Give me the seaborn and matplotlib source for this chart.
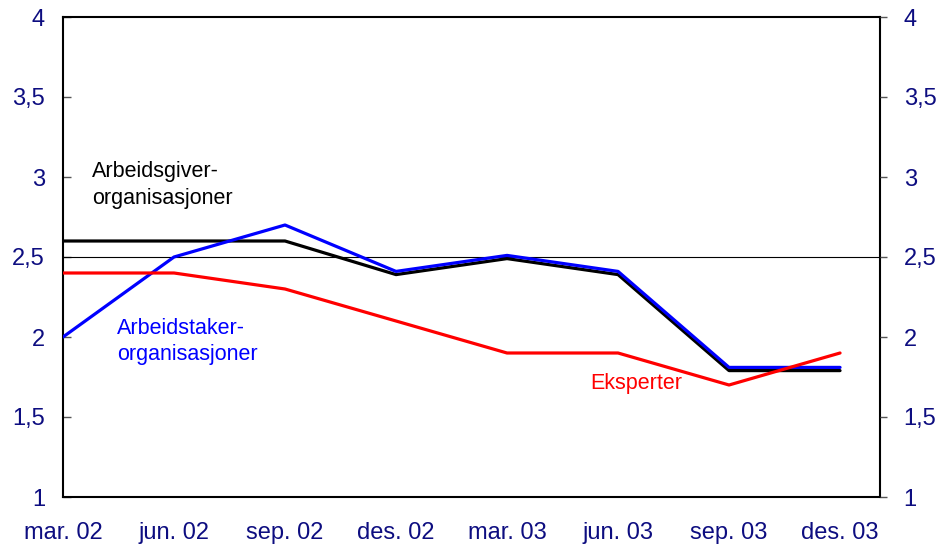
import seaborn as sns
import matplotlib.pyplot as plt
import pandas as pd

# Data
quarters = ['mar. 02', 'jun. 02', 'sep. 02', 'des. 02', 'mar. 03', 'jun. 03', 'sep. 03', 'des. 03']
arbeidsgiver = [2.6, 2.6, 2.6, 2.39, 2.49, 2.39, 1.79, 1.79]
arbeidstaker = [2.0, 2.5, 2.7, 2.41, 2.51, 2.41, 1.81, 1.81]
eksperter = [2.4, 2.4, 2.3, 2.1, 1.9, 1.9, 1.7, 1.9]
y_ticks = [1, 1.5, 2, 2.5, 3, 3.5, 4]
y_tick_labels = ['1', '1,5', '2', '2,5', '3', '3,5', '4']

sns.set_style('white')
plt.rcParams['font.family'] = ['Liberation Sans', 'DejaVu Sans']

navy = '#0d0d80'
df = pd.DataFrame({'pos': range(len(quarters)),
                   'Arbeidsgiver': arbeidsgiver,
                   'Arbeidstaker': arbeidstaker,
                   'Eksperter': eksperter})

fig = plt.figure(figsize=(9.37, 5.45), dpi=100)
ax = fig.add_axes([63 / 937, 48 / 545, 817 / 937, 480 / 545])

ax.axhline(2.5, color='black', lw=0.8, zorder=1)
sns.lineplot(data=df, x='pos', y='Arbeidsgiver', color='black', lw=2.3, ax=ax, zorder=3)
sns.lineplot(data=df, x='pos', y='Arbeidstaker', color='#0000ff', lw=2.3, ax=ax, zorder=4)
sns.lineplot(data=df, x='pos', y='Eksperter', color='#ff0000', lw=2.3, ax=ax, zorder=5)

ax.set_xlim(0, 7.36)
ax.set_ylim(1, 4)
ax.set_xlabel('')
ax.set_ylabel('')

ax.set_xticks(range(len(quarters)))
ax.set_xticklabels(quarters)
ax.set_yticks(y_ticks)
ax.set_yticklabels(y_tick_labels)
ax.tick_params(axis='x', direction='in', length=6, width=1, color='#555555',
               labelsize=17, labelcolor=navy, pad=18)
ax.tick_params(axis='y', direction='in', length=6, width=1, color='#555555',
               labelsize=17, labelcolor=navy, pad=13)

for s in ax.spines.values():
    s.set_color('black')
    s.set_linewidth(1.5)

ax2 = ax.twinx()
ax2.set_ylim(1, 4)
ax2.set_yticks(y_ticks)
ax2.set_yticklabels(y_tick_labels)
ax2.tick_params(axis='y', direction='out', length=5, width=1, color='#555555',
                labelsize=17, labelcolor=navy, pad=12)
for s in ax2.spines.values():
    s.set_visible(False)

ax.text(0.26, 2.95, 'Arbeidsgiver-\norganisasjoner', color='black', fontsize=15.5,
        va='center', ha='left', linespacing=1.32)
ax.text(0.49, 1.97, 'Arbeidstaker-\norganisasjoner', color='#0000ff', fontsize=15.5,
        va='center', ha='left', linespacing=1.32)
ax.text(4.75, 1.71, 'Eksperter', color='#ff0000', fontsize=15.5, va='center', ha='left')

fig.savefig('out.png', dpi=100)
